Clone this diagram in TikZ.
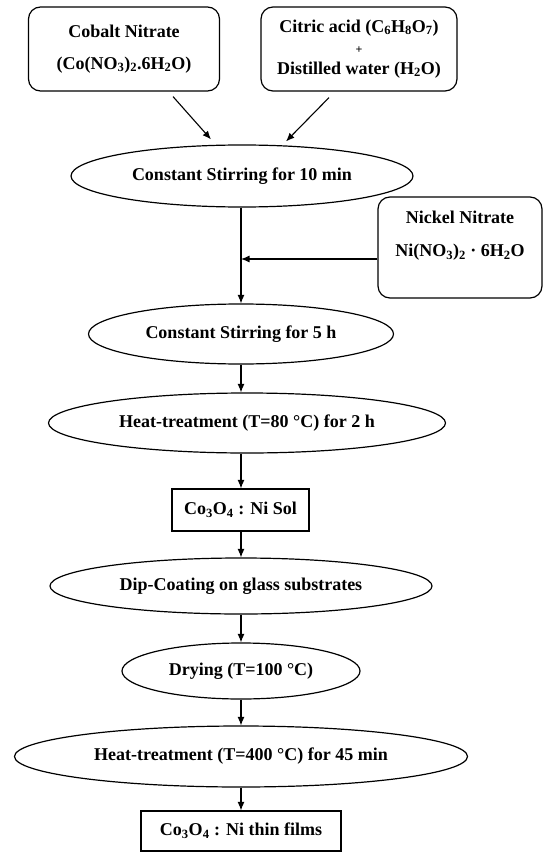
\documentclass[tikz,border=0pt]{standalone}
\usepackage{fontspec}
\setmainfont{Liberation Serif}
\usetikzlibrary{shapes.geometric,arrows.meta}
\begin{document}
\begin{tikzpicture}[x=1pt,y=-1pt,
  every node/.style={font=\fontsize{18}{21}\selectfont\bfseries, align=center, inner sep=0pt},
  rbox/.style={draw, line width=1.2pt, rounded corners=12pt},
  sbox/.style={draw, line width=1.2pt},
  ell/.style={draw, ellipse, line width=1.2pt},
  arr/.style={line width=1.1pt, -{Latex[length=8.5pt,width=7pt]}}]
\useasboundingbox (0,0) rectangle (546,853);
\node[rbox, minimum width=191pt, minimum height=84pt] (b1) at (124,49)
  {Cobalt Nitrate\\[11pt](Co(NO\textsubscript{3})\textsubscript{2}.6H\textsubscript{2}O)};
\node[rbox, minimum width=196pt, minimum height=84pt] (b2) at (359,49)
  {Citric acid (C\textsubscript{6}H\textsubscript{8}O\textsubscript{7})\\{\fontsize{12}{12}\selectfont +}\\Distilled water (H\textsubscript{2}O)};
\node[ell, minimum width=342pt, minimum height=62pt] (e1) at (242,176) {Constant Stirring for 10 min};
\node[rbox, minimum width=164pt, minimum height=101pt] (ni) at (460,247.5)
  {Nickel Nitrate\\[12pt]Ni(NO\textsubscript{3})\textsubscript{2} · 6H\textsubscript{2}O\\\strut};
\node[ell, minimum width=305pt, minimum height=60pt] (e2) at (241,334) {Constant Stirring for 5 h};
\node[ell, minimum width=397pt, minimum height=60pt] (e3) at (247,423) {Heat-treatment (T=80 °C) for 2 h};
\node[sbox, minimum width=137pt, minimum height=42pt] (s1) at (240.5,510) {Co\textsubscript{3}O\textsubscript{4} : Ni Sol};
\node[ell, minimum width=382pt, minimum height=56pt] (e4) at (241,586) {Dip-Coating on glass substrates};
\node[ell, minimum width=238pt, minimum height=56pt] (e5) at (241,671) {Drying (T=100 °C)};
\node[ell, minimum width=453pt, minimum height=61pt] (e6) at (241,756.5) {Heat-treatment (T=400 °C) for 45 min};
\node[sbox, minimum width=200pt, minimum height=40pt] (s2) at (241,831) {Co\textsubscript{3}O\textsubscript{4} : Ni thin films};
% connectors
\draw[arr] ([xshift=49pt,yshift=-5pt]b1.south) -- ([xshift=-31pt,yshift=5pt]e1.north);
\draw[arr] ([xshift=-30pt,yshift=-6pt]b2.south) -- ([xshift=44pt,yshift=3pt]e1.north);
\draw[arr] ([xshift=-1pt]e1.south) -- ([xshift=-1pt]e1.south |- e2.north);
\coordinate (nj) at ([yshift=-11.5pt]ni.west);
\draw[arr] (nj) -- (nj -| e2.north);
\draw[arr] (e2.south) -- (e2.south |- e3.north);
\draw[arr] (e2.south |- e3.south) -- (s1.north -| e2.south);
\draw[arr] (s1.south -| e2.south) -- (e4.north);
\draw[arr] (e4.south) -- (e5.north);
\draw[arr] (e5.south) -- (e6.north);
\draw[arr] (e6.south) -- (s2.north);
\end{tikzpicture}
\end{document}
